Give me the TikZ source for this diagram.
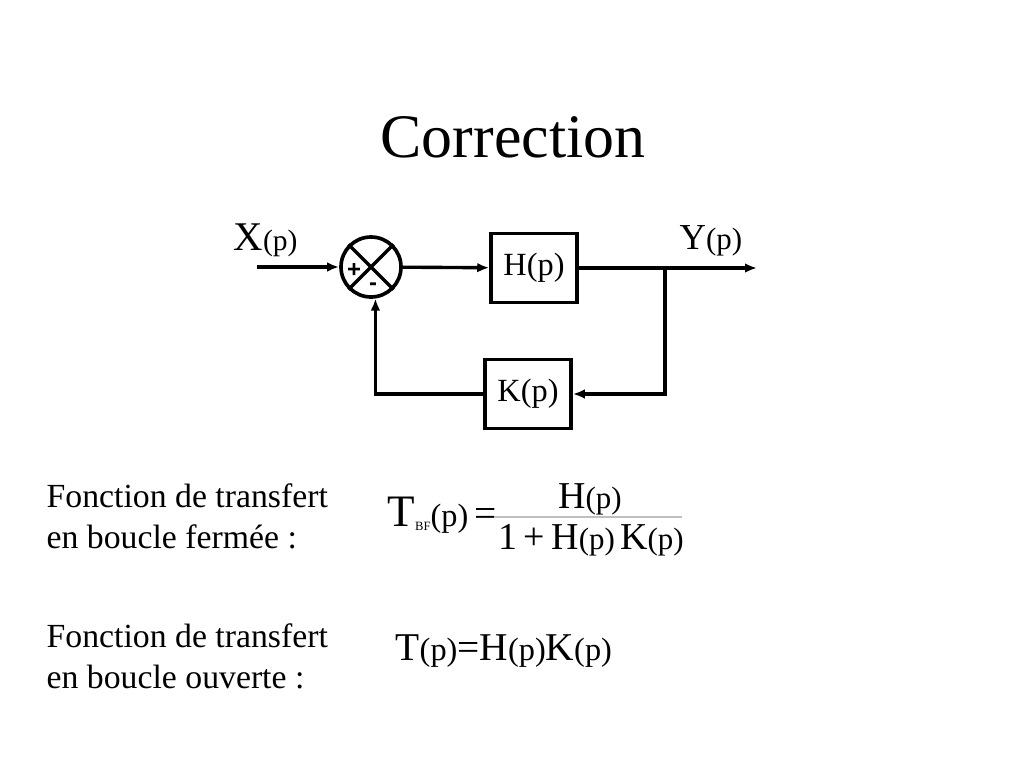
\documentclass[tikz,border=0pt]{standalone}
\usepackage{fontspec}
\setmainfont{Liberation Serif}
\newfontfamily\signfont{Liberation Sans}
\usetikzlibrary{arrows.meta}
\newcommand\sz[1]{\fontsize{#1}{#1}\selectfont}

\tikzset{
	bloc/.style={draw, line width=2.5pt, minimum width=2.15cm, minimum height=1.72cm, inner sep=0pt},
	somme/.style={draw, circle, line width=2.6pt, minimum size=1.5cm, inner sep=0pt},
	signe/.style={font=\signfont\bfseries\sz{17}, inner sep=0pt},
	texte/.style={anchor=base west, inner sep=0pt, font=\sz{24}},
	formule/.style={inner sep=0pt}
}

\begin{document}
\begin{tikzpicture}[x=0.025cm, y=-0.025cm, line width=2.4pt, >={Latex[length=3mm,width=2.4mm]}]
	\useasboundingbox[fill=white] (0,0) rectangle (1024,768);

	\node[anchor=base] (titre) at (513,157) {\sz{44}Correction};

	% schema bloc
	\node[somme] (som) at (371,267) {};
	\draw (som.45) -- (som.225) (som.135) -- (som.315);
	\node[signe] (plus) at (354,270) {+};
	\node[signe] (moins) at (373,287) {-};

	\node[bloc] (H) at (534,268) {\sz{23}H(p)};
	\node[bloc] (K) at (528,394) {\sz{23}K(p)};

	\coordinate (entree) at (257,267);
	\coordinate (sortie) at (757,268);
	\coordinate (noeud) at (665,268);

	\draw[->] (entree) -- (som);
	\draw[->] (som) -- (H);
	\draw[->] (H) -- (sortie);
	\draw[->] (noeud) |- (K);
	\draw[->] (K) -| (som.-82);

	\node[formule, anchor=base west] (X) at (232,250) {\sz{29}X\sz{21}(p)};
	\node[formule, anchor=base west] (Y) at (678,249) {\sz{26}Y\sz{22}(p)};

	% fonctions de transfert
	\node[texte] (bf1) at (45,507) {Fonction de transfert};
	\node[texte] (bf2) at (45,548) {en boucle fermée :};
	\node[texte] (bo1) at (45,647) {Fonction de transfert};
	\node[texte] (bo2) at (45,688) {en boucle ouverte :};

	\node[formule, anchor=base west] (tbf) at (386,526) {\sz{32}T\raisebox{-3.5pt}{\sz{9}BF}\sz{23}(p)\sz{28}\,=};
	\node[formule, anchor=base] (num) at (590,508) {\sz{27}H\sz{22}(p)};
	\node[formule, anchor=base] (den) at (591,549) {\sz{27}1\,+\,H\sz{22}(p)\,\sz{27}K\sz{22}(p)};
	\coordinate (barreG) at (495,517);
	\coordinate (barreD) at (682,517);
	\draw[gray!50, line width=0.8pt] (barreG) -- (barreD);

	\node[formule, anchor=base west] (tbo) at (394,660) {\sz{28}T\sz{23}(p)\sz{28}=H\sz{23}(p)\sz{28}K\sz{23}(p)};
\end{tikzpicture}
\end{document}
